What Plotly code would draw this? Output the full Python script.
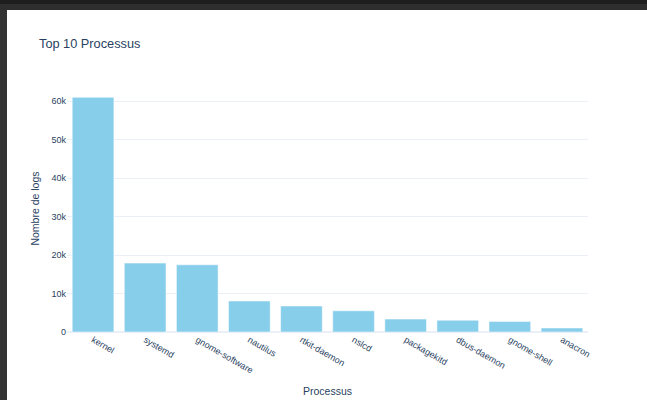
import plotly.graph_objects as go

processes = ["kernel", "systemd", "gnome-software", "nautilus", "rtkit-daemon",
             "nslcd", "packagekitd", "dbus-daemon", "gnome-shell", "anacron"]
log_counts = [60950, 17900, 17450, 8050, 6750, 5500, 3350, 3050, 2750, 1050]

W, H = 647, 400
L, R, T, B = 67, 59, 85, 68
pw, ph = W - L - R, H - T - B

def px_x(p):
    return (p - L) / pw

def px_y(p):
    return (H - B - p) / ph

font = "Liberation Sans, Arial, sans-serif"

fig = go.Figure(go.Bar(
    x=processes, y=log_counts,
    marker=dict(color="skyblue", line=dict(color="white", width=0.5)),
))

fig.update_layout(
    template="plotly_white",
    width=W, height=H,
    margin=dict(l=L, r=R, t=T, b=B, autoexpand=False),
    font=dict(family=font, color="#2a3f5f"),
    title=dict(text="Top 10 Processus", x=39 / W, xanchor="left", xref="container",
               y=1 - 44 / H, yanchor="middle", yref="container",
               font=dict(size=12.75, family=font, color="#2a3f5f")),
    xaxis=dict(title=dict(text="Processus", font=dict(size=10.5), standoff=13),
               tickangle=30, tickfont=dict(size=9), automargin=False),
    yaxis=dict(title=dict(text="Nombre de logs", font=dict(size=10.5), standoff=9),
               tickfont=dict(size=9), automargin=False),
    bargap=0.2,
    shapes=[
        dict(type="rect", xref="paper", yref="paper", layer="above",
             x0=px_x(0), x1=px_x(W), y0=px_y(10), y1=px_y(0),
             fillcolor="#2e2e2e", line=dict(width=0)),
        dict(type="rect", xref="paper", yref="paper", layer="above",
             x0=px_x(0), x1=px_x(W), y0=px_y(4), y1=px_y(0),
             fillcolor="#1e1e1e", line=dict(width=0)),
        dict(type="rect", xref="paper", yref="paper", layer="above",
             x0=px_x(0), x1=px_x(7), y0=px_y(H), y1=px_y(10),
             fillcolor="#333333", line=dict(width=0)),
    ],
)

fig.write_html("out.html")
